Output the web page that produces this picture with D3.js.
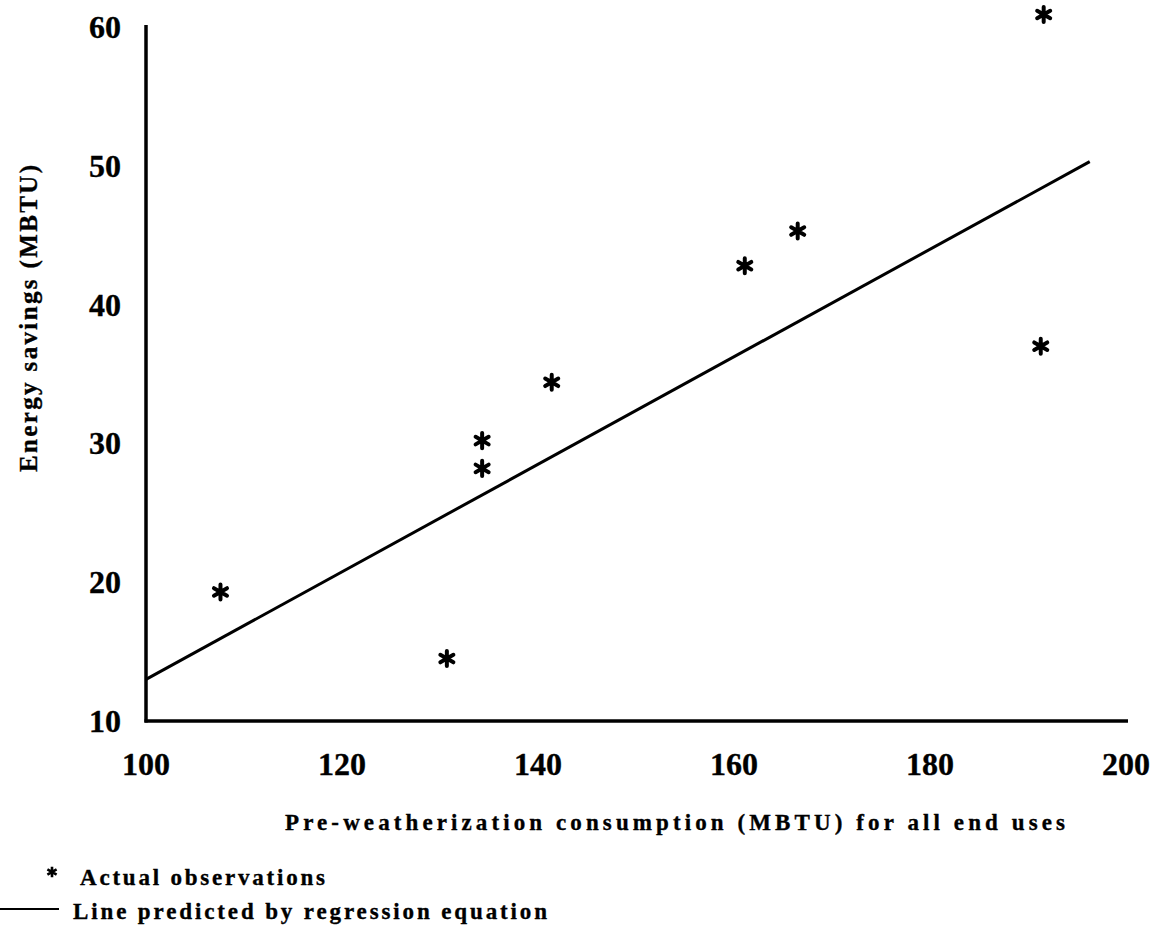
<!DOCTYPE html>
<html>
<head>
<meta charset="utf-8">
<script src="https://cdn.jsdelivr.net/npm/d3@7"></script>
<style>
html,body{margin:0;padding:0;background:#fff;}
svg{display:block;}
text{font-family:"Liberation Serif","Times New Roman",serif;font-weight:bold;fill:#000;stroke:#000;stroke-width:0.35px;}
</style>
</head>
<body>
<svg id="chart" width="1163" height="933"></svg>
<script>
// ---- data ----
const obsX = [107.6, 130.7, 134.3, 134.3, 141.4, 161.1, 166.5, 191.3, 191.6];
const obsY = [19.3, 14.5, 30.2, 28.2, 34.4, 42.8, 45.3, 37.0, 60.9];
const fitX = [100, 196.3];
const fitY = [13.0, 50.3];
const xTicks = [100, 120, 140, 160, 180, 200];
const yTicks = [10, 20, 30, 40, 50, 60];
const xTitle = "Pre-weatherization consumption (MBTU) for all end uses";
const yTitle = "Energy savings (MBTU)";
const legendLabels = ["Actual observations", "Line predicted by regression equation"];

const svg = d3.select("#chart");
const x = d3.scaleLinear().domain([100, 200]).range([146, 1126]);
const y = d3.scaleLinear().domain([10, 60]).range([721, 27]);

// axes lines
svg.append("line").attr("x1", x(100)).attr("x2", x(100)).attr("y1", y(60) - 2).attr("y2", y(10) + 1.5)
  .attr("stroke", "#000").attr("stroke-width", 3.5);
svg.append("line").attr("x1", x(100) - 1.5).attr("x2", x(200) + 2).attr("y1", y(10)).attr("y2", y(10))
  .attr("stroke", "#000").attr("stroke-width", 3.5);

// tick labels
svg.selectAll(".xt").data(xTicks).enter().append("text")
  .attr("x", d => x(d)).attr("y", y(10) + 54)
  .attr("text-anchor", "middle").attr("font-size", 32).text(d => d);
svg.selectAll(".yt").data(yTicks).enter().append("text")
  .attr("x", 121).attr("y", d => y(d) + 11)
  .attr("text-anchor", "end").attr("font-size", 32).text(d => d);

// titles
svg.append("text").attr("x", 285).attr("y", 830).attr("font-size", 23)
  .attr("textLength", 780).attr("lengthAdjust", "spacing").text(xTitle);
svg.append("text").attr("transform", "translate(37,472) rotate(-90)").attr("font-size", 25)
  .attr("textLength", 307).attr("lengthAdjust", "spacing").text(yTitle);

// regression line
const line = d3.line().x(d => x(d[0])).y(d => y(d[1]));
svg.append("path").datum(d3.zip(fitX, fitY)).attr("d", line)
  .attr("fill", "none").attr("stroke", "#000").attr("stroke-width", 3);

// observations
const star = d3.symbol().type(d3.symbolAsterisk).size(160);
svg.selectAll(".obs").data(d3.zip(obsX, obsY)).enter().append("path")
  .attr("d", star)
  .attr("transform", d => `translate(${x(d[0])},${y(d[1])})`)
  .attr("fill", "none").attr("stroke", "#000").attr("stroke-width", 4).attr("stroke-linecap", "round");

// legend
svg.append("path").attr("d", d3.symbol().type(d3.symbolAsterisk).size(80)())
  .attr("transform", "translate(52,872)")
  .attr("fill", "none").attr("stroke", "#000").attr("stroke-width", 2.6);
svg.append("text").attr("x", 80).attr("y", 885).attr("font-size", 23)
  .attr("textLength", 245).attr("lengthAdjust", "spacing").text(legendLabels[0]);
svg.append("line").attr("x1", 0).attr("x2", 59).attr("y1", 909).attr("y2", 909)
  .attr("stroke", "#000").attr("stroke-width", 2);
svg.append("text").attr("x", 73).attr("y", 919).attr("font-size", 23)
  .attr("textLength", 474).attr("lengthAdjust", "spacing").text(legendLabels[1]);
</script>
</body>
</html>
